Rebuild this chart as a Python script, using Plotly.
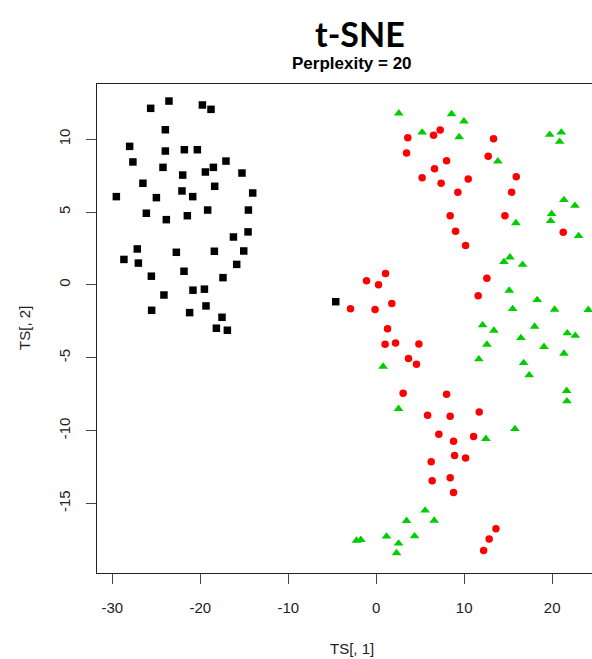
import plotly.graph_objects as go

# t-SNE embedding coordinates (TS[, 1], TS[, 2]) grouped by species
setosa_x = [-23.56, -25.64, -19.76, -18.78, -23.97, -28.03, -23.97, -21.81, -20.33, -27.66,
            -24.24, -18.51, -17.08, -19.42, -22.00, -15.26, -26.52, -18.36, -29.54, -24.99,
            -22.08, -20.86, -14.04, -26.13, -23.86, -21.47, -19.16, -14.53, -16.23, -14.57,
            -27.16, -22.72, -18.40, -15.06, -28.68, -27.04, -15.86, -21.85, -25.56, -17.42,
            -20.83, -19.53, -24.13, -25.53, -21.21, -19.35, -17.53, -18.17, -16.92, -4.60]
setosa_y = [12.62, 12.12, 12.35, 12.05, 10.65, 9.51, 9.19, 9.28, 9.28, 8.44,
            8.07, 8.07, 8.50, 7.75, 7.54, 7.68, 6.98, 6.77, 6.06, 5.99,
            6.45, 6.06, 6.31, 4.92, 4.48, 4.75, 5.14, 5.14, 3.29, 3.64,
            2.47, 2.24, 2.31, 2.33, 1.75, 1.50, 1.41, 0.94, 0.60, 0.50,
            -0.36, -0.29, -0.69, -1.74, -1.90, -1.44, -2.22, -2.97, -3.11, -1.15]

versicolor_x = [3.59, 6.52, 7.27, 3.45, 13.34, 12.73, 8.00, 6.63, 5.22, 7.38,
                10.46, 9.28, 15.92, 15.39, 8.41, 14.63, 9.02, 10.16, 21.26, 1.06,
                -1.10, 0.26, -2.92, -0.13, 1.77, 1.29, 1.01, 2.20, 4.85, 3.67,
                4.58, 12.58, 11.59, 3.06, 8.00, 5.84, 8.41, 11.71, 7.12, 8.79,
                11.07, 8.91, 10.16, 6.25, 6.36, 8.41, 8.79, 13.61, 12.84, 12.21]
versicolor_y = [10.10, 10.27, 10.63, 9.05, 10.03, 8.83, 8.53, 7.98, 7.36, 6.98,
                7.27, 6.36, 7.43, 6.36, 4.75, 4.75, 3.68, 2.70, 3.61, 0.78,
                0.29, 0.02, -1.63, -1.69, -1.28, -3.00, -4.07, -3.98, -4.05, -5.05,
                -5.44, 0.46, -0.75, -7.43, -7.50, -8.94, -9.01, -8.72, -10.24, -10.72,
                -10.40, -11.71, -11.87, -12.14, -13.44, -13.24, -14.25, -16.74, -17.44, -18.22]

virginica_x = [2.57, 8.57, 9.97, 5.22, 9.43, 13.83, 19.72, 21.04, 20.85, 21.34,
               22.59, 19.94, 19.83, 15.88, 23.01, 15.20, 14.52, 16.64, 15.12, 18.30,
               15.51, 20.28, 24.11, 12.09, 13.38, 18.01, 21.72, 22.63, 16.45, 12.58,
               19.07, 21.34, 11.67, 16.76, 17.39, 0.78, 21.65, 21.68, 2.54, 15.77,
               12.47, 5.56, 3.45, 6.59, 1.17, 4.36, 2.54, 2.31, -2.24, -1.75]
virginica_y = [11.78, 11.73, 11.23, 10.47, 10.15, 8.48, 10.31, 10.47, 9.83, 5.83,
               5.44, 4.87, 4.39, 4.25, 3.36, 1.90, 1.58, 1.39, -0.39, -1.03,
               -1.65, -1.69, -1.71, -2.76, -3.13, -2.86, -3.31, -3.48, -3.64, -4.09,
               -4.25, -4.71, -5.10, -5.35, -6.19, -5.60, -7.27, -7.98, -8.50, -9.88,
               -10.56, -15.48, -16.19, -16.17, -17.26, -17.24, -17.74, -18.40, -17.54, -17.49]

x_ticks = [-30, -20, -10, 0, 10, 20]
y_ticks = [-15, -10, -5, 0, 5, 10]

fig = go.Figure()
fig.add_trace(go.Scatter(x=setosa_x, y=setosa_y, mode="markers", name="setosa",
                         marker=dict(symbol="square", size=7.5, color="#000000")))
fig.add_trace(go.Scatter(x=versicolor_x, y=versicolor_y, mode="markers", name="versicolor",
                         marker=dict(symbol="circle", size=7.5, color="#FF0000")))
fig.add_trace(go.Scatter(x=virginica_x, y=virginica_y, mode="markers", name="virginica",
                         marker=dict(symbol="triangle-up", size=8.5, color="#00CD00")))

axis_font = dict(family="Liberation Sans, Arial, sans-serif", size=15, color="#222222")

fig.update_layout(
    width=592, height=659,
    margin=dict(l=97, r=0, t=84, b=86),
    paper_bgcolor="white", plot_bgcolor="white",
    showlegend=False,
    xaxis=dict(range=[-31.74, 24.53], tickvals=x_ticks, ticktext=[str(v) for v in x_ticks],
               showgrid=False, zeroline=False, showline=True, linecolor="#222222",
               linewidth=1, mirror=True, ticks="outside", ticklen=10, tickcolor="#444444",
               tickfont=axis_font, ticklabelstandoff=11),
    yaxis=dict(range=[-19.77, 13.79], tickvals=y_ticks, ticktext=[str(v) for v in y_ticks],
               showgrid=False, zeroline=False, showline=True, linecolor="#222222",
               linewidth=1, ticks="outside", ticklen=10, tickcolor="#444444",
               tickfont=axis_font, tickangle=-90, ticklabelstandoff=10),
    annotations=[
        dict(text="<b>t-SNE</b>", x=0.531, y=1.104, xref="paper", yref="paper",
             xanchor="center", yanchor="middle", showarrow=False,
             font=dict(family="Lato, Open Sans, sans-serif", size=34, color="black")),
        dict(text="<b>Perplexity = 20</b>", x=0.5148, y=1.042, xref="paper", yref="paper",
             xanchor="center", yanchor="middle", showarrow=False,
             font=dict(family="Liberation Sans, Arial, sans-serif", size=17, color="black")),
        dict(text="TS[, 1]", x=0.5148, y=-0.1547, xref="paper", yref="paper",
             xanchor="center", yanchor="middle", showarrow=False, font=axis_font),
        dict(text="TS[, 2]", x=-0.1464, y=0.5003, xref="paper", yref="paper",
             xanchor="center", yanchor="middle", showarrow=False, textangle=-90,
             font=axis_font),
    ],
)

fig.write_html("out.html")
